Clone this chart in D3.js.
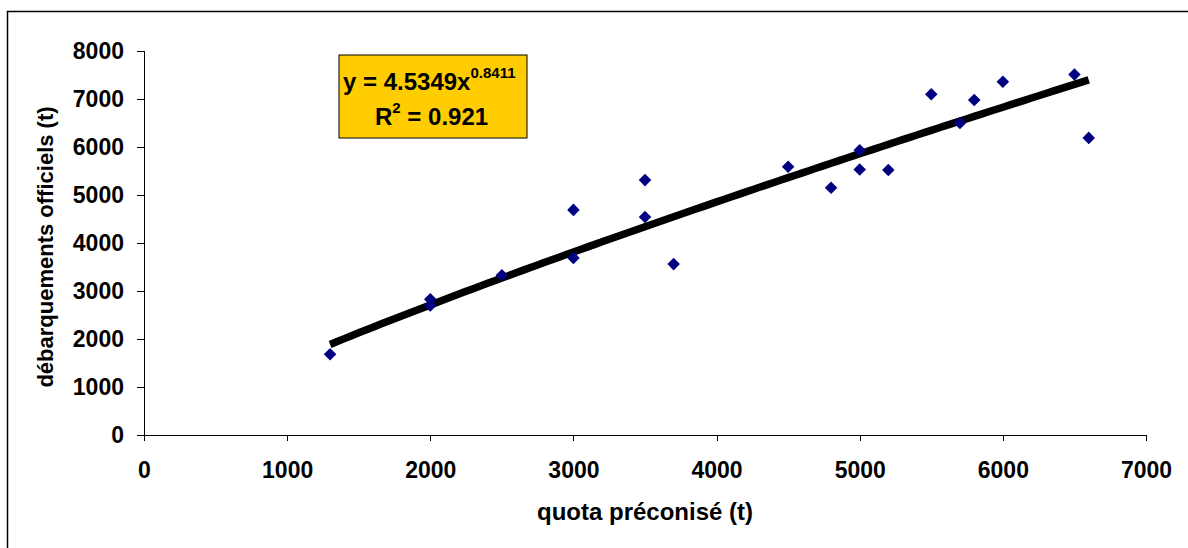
<!DOCTYPE html>
<meta charset="utf-8">
<style>
body { margin: 0; background: #fff; }
svg text { font-family: "Liberation Sans", Arial, sans-serif; font-weight: bold; }
.axis path, .axis line { stroke: #000; shape-rendering: crispEdges; }
</style>
<div id="chart"></div>
<script src="https://d3js.org/d3.v7.min.js"></script>
<script>
// quota préconisé (t) vs débarquements officiels (t)
var quota = [1300, 2000, 2000, 2500, 3000, 3000, 3500, 3500, 3700, 4500, 4800, 5000, 5000, 5200, 5500, 5700, 5800, 6000, 6500, 6600];
var debarquements = [1680, 2830, 2700, 3330, 4690, 3690, 5310, 4540, 3560, 5590, 5150, 5930, 5530, 5520, 7100, 6500, 6980, 7360, 7510, 6190];
var xTicks = [0, 1000, 2000, 3000, 4000, 5000, 6000, 7000];
var yTicks = [0, 1000, 2000, 3000, 4000, 5000, 6000, 7000, 8000];
var coefA = 4.5349, coefB = 0.8411;
var trendX = d3.range(1300, 6601, 50);

var W = 1188, H = 548;
var margin = {top: 51, left: 144, right: 42, bottom: 113};

var svg = d3.select("#chart").append("svg")
  .attr("width", W).attr("height", H);

// chart area border
svg.append("rect")
  .attr("x", 7.5).attr("y", 11.5)
  .attr("width", W).attr("height", H)
  .attr("fill", "#fff").attr("stroke", "#000").attr("stroke-width", 1.5);

var x = d3.scaleLinear().domain([0, 7000]).range([margin.left, W - margin.right]);
var y = d3.scaleLinear().domain([0, 8000]).range([H - margin.bottom, margin.top]);

svg.append("g").attr("class", "axis")
  .attr("transform", "translate(0," + y(0) + ")")
  .call(d3.axisBottom(x).tickValues(xTicks).tickFormat(d3.format("d")).tickSize(6).tickPadding(21).tickSizeOuter(0))
  .call(function(g) {
    g.attr("font-size", 23).attr("font-family", null);
    g.select(".domain").attr("d", "M" + (x(0) - 7) + ",0.5H" + x(7000));
  });

svg.append("g").attr("class", "axis")
  .attr("transform", "translate(" + x(0) + ",0)")
  .call(d3.axisLeft(y).tickValues(yTicks).tickFormat(d3.format("d")).tickSize(7).tickPadding(13).tickSizeOuter(0))
  .call(function(g) {
    g.attr("font-size", 23).attr("font-family", null);
    g.select(".domain").attr("d", "M0.5," + y(8000) + "V" + y(0));
  });

// power trend line
var line = d3.line()
  .x(function(d) { return x(d); })
  .y(function(d) { return y(coefA * Math.pow(d, coefB)); });
svg.append("path")
  .datum(trendX)
  .attr("d", line)
  .attr("fill", "none")
  .attr("stroke", "#000")
  .attr("stroke-width", 7.5);

// data points
svg.append("g").selectAll("path")
  .data(quota)
  .enter().append("path")
  .attr("d", d3.symbol().type(d3.symbolDiamond2).size(100))
  .attr("transform", function(d, i) { return "translate(" + x(d) + "," + y(debarquements[i]) + ")"; })
  .attr("fill", "#000080");

// equation box
var box = svg.append("g").attr("transform", "translate(339,55)");
box.append("rect").attr("width", 188).attr("height", 83)
  .attr("fill", "#FFCC00").attr("stroke", "#000").attr("stroke-width", 1);
var eq = box.append("text").attr("x", 4).attr("y", 35).attr("font-size", 24);
eq.append("tspan").text("y = 4.5349x");
eq.append("tspan").attr("font-size", 15).attr("dy", -12).text("0.8411");
var r2 = box.append("text").attr("x", 36).attr("y", 70).attr("font-size", 24);
r2.append("tspan").text("R");
r2.append("tspan").attr("font-size", 15).attr("dy", -12).text("2");
r2.append("tspan").attr("dy", 12).text(" = 0.921");

// axis titles
svg.append("text")
  .attr("x", (x(0) + x(7000)) / 2).attr("y", 520)
  .attr("text-anchor", "middle").attr("font-size", 24)
  .text("quota préconisé (t)");
svg.append("text")
  .attr("transform", "translate(53,247) rotate(-90)")
  .attr("text-anchor", "middle").attr("font-size", 22)
  .text("débarquements officiels (t)");
</script>
